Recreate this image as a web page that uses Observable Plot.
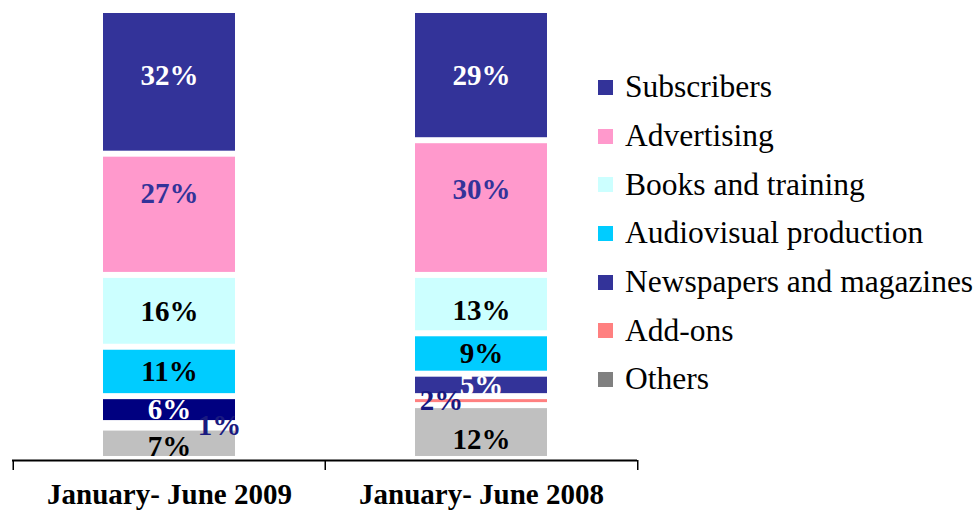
<!DOCTYPE html>
<html>
<head>
<meta charset="utf-8">
<script src="https://cdn.jsdelivr.net/npm/d3@7"></script>
<script src="https://cdn.jsdelivr.net/npm/@observablehq/plot@0.6"></script>
<style>
  html, body { margin: 0; padding: 0; background: white; }
  #wrap { position: relative; width: 978px; height: 512px; font-family: "Liberation Serif", "Times New Roman", serif; }
  #legend { position: absolute; left: 598px; top: 63px; }
  .item { display: flex; align-items: center; height: 48.7px; font-size: 31.5px; color: #000; white-space: nowrap; font-family: "Liberation Serif", "Times New Roman", serif; }
  .sw { width: 15px; height: 15px; margin-right: 12px; flex: none; }
</style>
</head>
<body>
<div id="wrap"><div id="legend"></div></div>
<script>
const periods = ["January- June 2009", "January- June 2008"];
const sources = ["Subscribers", "Advertising", "Books and training", "Audiovisual production", "Newspapers and magazines", "Add-ons", "Others"];
const share2009 = [32, 27, 16, 11, 6, 1, 7];
const share2008 = [29, 30, 13, 9, 5, 2, 12];
const barColors = ["#333399", "#FF99CC", "#CCFFFF", "#00CCFF", "#333399", "#FF8080", "#C0C0C0"];
const legendColors = ["#333399", "#FF99CC", "#CCFFFF", "#00CCFF", "#333399", "#FF8080", "#808080"];
const labelColors = ["#FFFFFF", "#333399", "#000000", "#000000", "#FFFFFF", "#1A1A80", "#000000"];

// build rows bottom-first (Others at the bottom of the stack)
const rows = [];
[share2009, share2008].forEach((vals, pi) => {
  for (let i = sources.length - 1; i >= 0; i--) {
    rows.push({period: periods[pi], source: sources[i], value: vals[i], idx: i, pi});
  }
});

const barFill = d => (d.pi === 0 && d.source === "Newspapers and magazines") ? "#000080" : barColors[d.idx];

// label placement tweaks (style only): [periodIndex, sourceIndex, dx, dy]
const tweaks = [
  [0, 0, 0, -7], [0, 1, 0, -21], [1, 1, 0, -18],
  [1, 2, 0, 6], [0, 6, 0, 3], [1, 6, 0, 7],
  [0, 5, 50, 0], [1, 5, -40, 0]
];
const isTweaked = d => tweaks.some(t => t[0] === d.pi && t[1] === d.idx);

function labels(test, dx, dy) {
  return Plot.text(rows, Plot.stackY({x: "period", y: "value", z: "source",
    text: d => test(d) ? d.value + "%" : "",
    fill: d => labelColors[d.idx], fontSize: 29, fontWeight: "bold", dx, dy}));
}

const chart = Plot.plot({
  width: 650,
  height: 512,
  marginLeft: 12,
  marginRight: 13,
  marginTop: 10,
  marginBottom: 53,
  x: {domain: periods, padding: 0, label: null},
  y: {domain: [0, 100], axis: null},
  color: {type: "identity"},
  style: {fontFamily: "Liberation Serif, Times New Roman, serif", background: "white", overflow: "visible"},
  marks: [
    Plot.barY(rows, Plot.stackY({x: "period", y: "value", z: "source", fill: barFill,
      insetLeft: 90, insetRight: 90, insetTop: 3, insetBottom: 3})),
    labels(d => !isTweaked(d), 0, 0),
    ...tweaks.map(t => labels(d => d.pi === t[0] && d.idx === t[1], t[2], t[3])),
    Plot.ruleY([0], {stroke: "#000", strokeWidth: 2, dy: 1}),
    Plot.ruleX(periods, {x: d => d, dx: -156.25, stroke: "#000", strokeWidth: 1.5, insetTop: 450, insetBottom: -11}),
    Plot.ruleX([periods[1]], {x: d => d, dx: 156.25, stroke: "#000", strokeWidth: 1.5, insetTop: 450, insetBottom: -11}),
    Plot.axisX({tickSize: 0, tickPadding: 24, fontSize: 29, fontWeight: "bold", fill: "#000", label: null})
  ]
});
const wrap = document.getElementById("wrap");
chart.style.position = "absolute";
chart.style.left = "0px";
chart.style.top = "0px";
wrap.insertBefore(chart, wrap.firstChild);

const legend = document.getElementById("legend");
sources.forEach((s, i) => {
  const item = document.createElement("div");
  item.className = "item";
  const sw = document.createElement("span");
  sw.className = "sw";
  sw.style.background = legendColors[i];
  const t = document.createElement("span");
  t.textContent = s;
  item.appendChild(sw);
  item.appendChild(t);
  legend.appendChild(item);
});
</script>
</body>
</html>
